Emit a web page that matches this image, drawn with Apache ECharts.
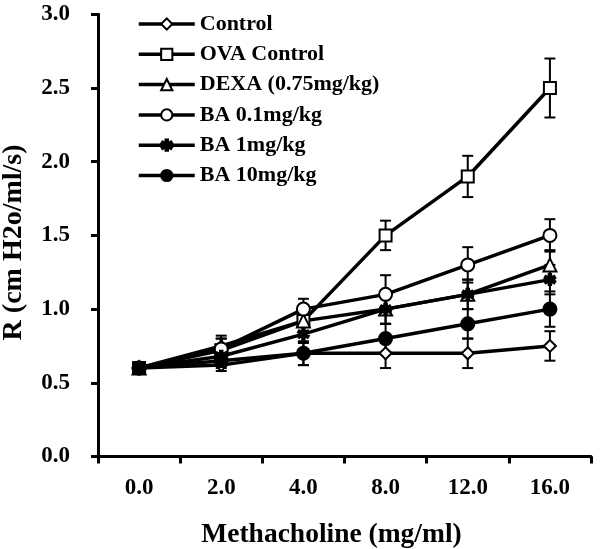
<!DOCTYPE html>
<html>
<head>
<meta charset="utf-8">
<script src="https://cdn.jsdelivr.net/npm/echarts@6/dist/echarts.min.js"></script>
<style>html,body{margin:0;padding:0;background:#fff}#c{width:600px;height:549px}</style>
</head>
<body>
<div id="c"></div>
<script>
// ---- data ----
var categories = ['0.0', '2.0', '4.0', '8.0', '12.0', '16.0'];
var yTicks = ['0.0', '0.5', '1.0', '1.5', '2.0', '2.5', '3.0'];
var seriesNames = ['Control', 'OVA Control', 'DEXA (0.75mg/kg)', 'BA 0.1mg/kg', 'BA 1mg/kg', 'BA 10mg/kg'];
var controlVals = [0.6, 0.62, 0.70, 0.70, 0.70, 0.75];
var controlErr  = [0.02, 0.04, 0.08, 0.10, 0.10, 0.10];
var ovaVals     = [0.6, 0.72, 0.92, 1.50, 1.90, 2.50];
var ovaErr      = [0.02, 0.08, 0.07, 0.10, 0.14, 0.20];
var dexaVals    = [0.6, 0.75, 0.92, 1.00, 1.10, 1.30];
var dexaErr     = [0.02, 0.07, 0.07, 0.10, 0.10, 0.10];
var ba01Vals    = [0.6, 0.73, 1.00, 1.10, 1.30, 1.50];
var ba01Err     = [0.02, 0.07, 0.07, 0.13, 0.12, 0.11];
var ba1Vals     = [0.6, 0.68, 0.83, 1.00, 1.10, 1.20];
var ba1Err      = [0.02, 0.06, 0.06, 0.10, 0.10, 0.10];
var ba10Vals    = [0.6, 0.65, 0.70, 0.80, 0.90, 1.00];
var ba10Err     = [0.02, 0.05, 0.08, 0.10, 0.10, 0.12];

// ---- styling ----
var FONT = '"Liberation Serif", "Times New Roman", serif';
var asterisk = 'path://M-0.22,-1 L0.22,-1 L0.22,1 L-0.22,1 Z ' +
  'M-0.976,-0.31 L-0.756,-0.69 L0.976,0.31 L0.756,0.69 Z ' +
  'M0.756,-0.69 L0.976,-0.31 L-0.756,0.69 L-0.976,0.31 Z';

var groups = [
  {name: seriesNames[0], vals: controlVals, err: controlErr, symbol: 'diamond', size: 12, fill: '#fff'},
  {name: seriesNames[1], vals: ovaVals, err: ovaErr, symbol: 'rect', size: 12, fill: '#fff'},
  {name: seriesNames[2], vals: dexaVals, err: dexaErr, symbol: 'triangle', size: 13, fill: '#fff'},
  {name: seriesNames[3], vals: ba01Vals, err: ba01Err, symbol: 'circle', size: 13, fill: '#fff'},
  {name: seriesNames[4], vals: ba1Vals, err: ba1Err, symbol: asterisk, size: 11, fill: '#000'},
  {name: seriesNames[5], vals: ba10Vals, err: ba10Err, symbol: 'circle', size: 13, fill: '#000'}
];

var series = [];
groups.forEach(function (g) {
  // error bars
  series.push({
    type: 'custom',
    name: g.name + ' err',
    z: 1,
    silent: true,
    data: g.vals.map(function (v, i) { return [i, v - g.err[i], v + g.err[i]]; }),
    renderItem: function (params, api) {
      var lo = api.coord([api.value(0), api.value(1)]);
      var hi = api.coord([api.value(0), api.value(2)]);
      var hw = 5.5;
      var st = {stroke: '#000', lineWidth: 2};
      return {
        type: 'group',
        children: [
          {type: 'line', shape: {x1: hi[0], y1: hi[1], x2: lo[0], y2: lo[1]}, style: st},
          {type: 'line', shape: {x1: hi[0] - hw, y1: hi[1], x2: hi[0] + hw, y2: hi[1]}, style: st},
          {type: 'line', shape: {x1: lo[0] - hw, y1: lo[1], x2: lo[0] + hw, y2: lo[1]}, style: st}
        ]
      };
    }
  });
  series.push({
    type: 'line',
    name: g.name,
    z: 3,
    data: g.vals,
    symbol: g.symbol,
    symbolSize: g.size,
    showAllSymbol: true,
    lineStyle: {color: '#000', width: 3.5},
    itemStyle: {color: g.fill, borderColor: '#000', borderWidth: 2, opacity: 1},
    emphasis: {disabled: true}
  });
});

var chart = echarts.init(document.getElementById('c'), null, {renderer: 'canvas'});
chart.setOption({
  animation: false,
  backgroundColor: '#fff',
  grid: {left: 98, right: 9, top: 14.3, bottom: 92.5, containLabel: false, outerBoundsMode: 'none'},
  legend: {
    data: groups.map(function (g) { return g.name; }),
    orient: 'vertical',
    left: 132,
    top: 8,
    itemWidth: 56,
    itemHeight: 14,
    itemGap: 8.3,
    lineStyle: {width: 3.5},
    textStyle: {fontFamily: FONT, fontWeight: 'bold', fontSize: 22, color: '#000', lineHeight: 22},
    selectedMode: false
  },
  xAxis: {
    type: 'category',
    data: categories,
    boundaryGap: true,
    name: 'Methacholine (mg/ml)',
    nameLocation: 'middle',
    nameGap: 64,
    nameTextStyle: {fontFamily: FONT, fontWeight: 'bold', fontSize: 27.5, color: '#000', padding: [0, 26, 0, 0]},
    axisLine: {lineStyle: {color: '#000', width: 3}},
    axisTick: {show: true, length: 7, lineStyle: {color: '#000', width: 3}, alignWithLabel: false},
    axisLabel: {fontFamily: FONT, fontWeight: 'bold', fontSize: 23, color: '#000', margin: 20},
    splitLine: {show: false}
  },
  yAxis: {
    type: 'value',
    min: 0, max: 3, interval: 0.5,
    name: 'R (cm H2o/ml/s)',
    nameLocation: 'middle',
    nameGap: 70,
    nameTextStyle: {fontFamily: FONT, fontWeight: 'bold', fontSize: 28, color: '#000', padding: [0, 14, 0, 0]},
    axisLine: {show: true, lineStyle: {color: '#000', width: 3}},
    axisTick: {show: true, length: 7, lineStyle: {color: '#000', width: 3}},
    axisLabel: {
      fontFamily: FONT, fontWeight: 'bold', fontSize: 23, color: '#000', margin: 28,
      formatter: function (v) { return yTicks[Math.round(v / 0.5)]; }
    },
    splitLine: {show: false}
  },
  series: series
});
</script>
</body>
</html>
